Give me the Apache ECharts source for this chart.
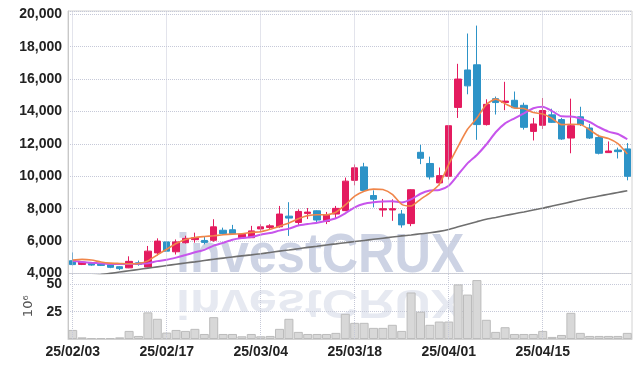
<!DOCTYPE html>
<html><head><meta charset="utf-8">
<script src="https://cdn.jsdelivr.net/npm/echarts@6/dist/echarts.min.js"></script>
<style>html,body{margin:0;padding:0;background:#fff}#c{width:642px;height:368px}</style>
</head><body><div id="c"></div>
<script>
const dates = ['25/02/03','25/02/04','25/02/05','25/02/06','25/02/07','25/02/10','25/02/11','25/02/12','25/02/13','25/02/14',
'25/02/17','25/02/18','25/02/19','25/02/20','25/02/21','25/02/24','25/02/25','25/02/26','25/02/27','25/02/28',
'25/03/04','25/03/05','25/03/06','25/03/07','25/03/10','25/03/11','25/03/12','25/03/13','25/03/14','25/03/17',
'25/03/18','25/03/19','25/03/20','25/03/21','25/03/24','25/03/25','25/03/26','25/03/27','25/03/28','25/03/31',
'25/04/01','25/04/02','25/04/03','25/04/04','25/04/07','25/04/08','25/04/09','25/04/10','25/04/11','25/04/14',
'25/04/15','25/04/16','25/04/17','25/04/18','25/04/21','25/04/22','25/04/23','25/04/24','25/04/25','25/04/28'];
const labelDates = ['25/02/03','25/02/17','25/03/04','25/03/18','25/04/01','25/04/15'];

const opens  = [4790,4560,4620,4600,4540,4420,4350,4660,4400,5270, 5950,5340,5900,6090,6040,6050,6670,6700,6210,6210,
                6750,6840,6880,7540,7150,7710,7870,7210,7670,7880, 9750,10580,8810,7920,7920,7670,7080,11480,10790,9590,
                10000,14250,16560,16880,13190,14790,14550,14690,14380,12770, 13150,13790,13500,12360,13670,12980,12390,11460,11620,11690];
const closes = [4550,4700,4520,4500,4380,4300,4750,4560,5380,6000, 5380,5950,6170,6200,5920,6880,6460,6460,6420,6630,
                6880,6940,7670,7420,7830,7790,7300,7620,8020,9700, 10520,9130,8580,8000,8000,7000,9170,11110,9960,10040,
                13120,16000,15580,13190,14440,14550,14640,14230,13020,13230, 14060,13330,12300,13120,13190,12360,11420,11560,11520,10000];
const lows   = [4500,4520,4480,4460,4330,4210,4330,4480,4380,5110, 5350,5170,5850,5900,5800,5960,6400,6420,6180,6200,
                6630,6710,6830,6320,7000,7360,7150,7050,7420,7850, 9440,9100,8080,7500,7250,6830,6920,10750,9800,9440,
                9800,13600,15060,12250,13130,13810,14080,14200,12880,12210, 12920,13300,12250,11420,13100,12300,11350,11440,11100,9750];
const highs  = [5300,4720,4650,4640,4560,4450,5060,4800,5700,6170, 6000,6100,6330,6520,6250,7350,6830,7000,6480,6940,
                7040,7040,8170,8400,7960,8040,7900,7800,8170,9920, 10730,10830,9130,8600,8580,7920,9200,11940,11210,10540,
                13150,16940,18810,19300,14750,14920,15830,15230,14540,13600, 14830,14170,13600,14790,14290,13230,12560,12150,11770,12050];
const volumes = [8.3,1.5,0.9,0.9,0.9,1.5,7.4,2.8,24.4,18.5, 5.9,8.3,7.4,9.3,4.6,20,4.6,4.6,2.5,4.6,
                 2.5,2.8,9.3,18.5,6.5,4.6,4.6,4.6,5.6,23.1, 14.8,14.8,10.2,10.2,13,7.4,42.6,25,13,16,
                 16,50,40.7,54,17.6,6.5,10.8,4.6,4.6,4.6, 7.4,1.9,3.7,24,5.6,2.8,2.8,2.8,2.8,5.6];
const ma5  = [4830,4870,4830,4710,4640,4620,4600,4620,4780,5150, 5500,5850,6100,6220,6280,6330,6390,6430,6450,6540,
              6580,6730,6920,7120,7380,7570,7630,7620,7780,8230, 8770,9080,9210,9180,8880,8270,8170,8580,8980,9500,
              10730,11850,12900,13590,14430,14760,14480,14210,14180,13930, 13840,13570,13190,13210,13200,12860,12480,12330,12010,11380];
const ma10 = [4790,4710,4665,4625,4585,4580,4580,4600,4625,4764, 4847,4980,5137,5307,5461,5719,5890,6080,6184,6247,
              6397,6496,6646,6768,6959,7050,7134,7250,7410,7717, 8081,8300,8391,8449,8466,8387,8574,8923,9117,9151,
              9411,10098,10798,11317,11961,12716,13263,13575,13881,14200, 14294,14027,13699,13692,13567,13348,13026,12759,12609,12286];
const ma60 = [3700,3780,3860,3930,4010,4090,4170,4250,4330,4410, 4490,4570,4650,4720,4800,4880,4950,5020,5090,5150,
              5220,5300,5380,5450,5530,5610,5680,5760,5830,5900, 5970,6040,6110,6180,6250,6320,6380,6450,6510,6600,
              6720,6880,7040,7200,7350,7460,7580,7690,7800,7920, 8030,8160,8290,8420,8550,8670,8780,8890,9000,9110];

const candleData = opens.map((o, i) => [o, closes[i], lows[i], highs[i]]);
const labelFont = {fontFamily: '"Liberation Sans", Arial, sans-serif', fontSize: 14, fontWeight: 'bold', color: '#222'};
const gridLineColor = '#c6c9d8';
const vLines = {
  symbol: 'none', silent: true, label: {show: false},
  lineStyle: {type: 'dotted', color: gridLineColor, width: 1},
  emphasis: {disabled: true},
  data: labelDates.map(d => ({xAxis: d}))
};
const wmFont = 'bold 56px "Liberation Sans", Arial, sans-serif';

const chart = echarts.init(document.getElementById('c'), null, {renderer: 'canvas'});
chart.setOption({
  animation: false,
  backgroundColor: '#fff',
  graphic: [
    {type: 'group', x: 176, y: 257, scaleX: 0.9, z: -1, silent: true,
     children: [{type: 'text', x: 0, y: 0, style: {text: 'investCRUX', font: wmFont, fill: '#cdd3e4', align: 'left', verticalAlign: 'middle'}}]},
    {type: 'group', x: 176, y: 284, scaleX: 0.9, scaleY: -0.72, z: -1, silent: true,
     children: [{type: 'text', x: 0, y: -24, style: {text: 'investCRUX', font: wmFont, fill: '#e6e9f1', align: 'left', verticalAlign: 'middle'}}]}
  ],
  grid: [
    {left: 68, right: 10, top: 11, height: 262.5, show: true, borderColor: '#d2d2d2', borderWidth: 1, backgroundColor: 'transparent'},
    {left: 68, right: 10, top: 273.5, height: 65.5, show: true, borderColor: '#d2d2d2', borderWidth: 1, backgroundColor: 'transparent'}
  ],
  xAxis: [
    {type: 'category', gridIndex: 0, data: dates, boundaryGap: true,
     axisLine: {show: false}, axisTick: {show: false}, axisLabel: {show: false}, splitLine: {show: false}},
    {type: 'category', gridIndex: 1, data: dates, boundaryGap: true,
     axisLine: {show: true, lineStyle: {color: '#d2d2d2'}}, axisTick: {show: false},
     axisLabel: Object.assign({show: true, margin: 6, interval: (idx, val) => labelDates.includes(val)}, labelFont),
     splitLine: {show: false}}
  ],
  yAxis: [
    {type: 'value', gridIndex: 0, min: 4000, max: 20200, interval: 2000, scale: true,
     axisLine: {show: true, lineStyle: {color: '#c8c8c8'}}, axisTick: {show: false},
     axisLabel: Object.assign({margin: 6, showMaxLabel: true,
       formatter: v => (v % 2000 === 0 ? v.toLocaleString('en-US') : '')}, labelFont),
     splitLine: {show: true, lineStyle: {type: 'dotted', color: gridLineColor, width: 1}}},
    {type: 'value', gridIndex: 1, min: 0, max: 60, interval: 25,
     name: '10⁶', nameLocation: 'middle', nameRotate: 90, nameGap: 17,
     nameTextStyle: {fontFamily: '"DejaVu Sans", sans-serif', fontSize: 13, color: '#555'},
     axisLine: {show: true, lineStyle: {color: '#c8c8c8'}}, axisTick: {show: false},
     axisLabel: Object.assign({margin: 6, formatter: v => (v === 25 || v === 50 ? String(v) : '')}, labelFont),
     splitLine: {show: true, lineStyle: {type: 'dotted', color: gridLineColor, width: 1}}}
  ],
  series: [
    {type: 'candlestick', xAxisIndex: 0, yAxisIndex: 0, data: candleData, barWidth: '72%', z: 3,
     itemStyle: {color: '#e41b5f', color0: '#2d93c7', borderColor: '#e41b5f', borderColor0: '#2d93c7', borderWidth: 1},
     markLine: vLines},
    {type: 'line', xAxisIndex: 0, yAxisIndex: 0, data: ma60, showSymbol: false, smooth: 0.2, z: 4,
     lineStyle: {color: '#6f6f6f', width: 1.6}},
    {type: 'line', xAxisIndex: 0, yAxisIndex: 0, data: ma10, showSymbol: false, smooth: 0.2, z: 4,
     lineStyle: {color: '#c755ec', width: 2}},
    {type: 'line', xAxisIndex: 0, yAxisIndex: 0, data: ma5, showSymbol: false, smooth: 0.2, z: 5,
     lineStyle: {color: '#f0864a', width: 1.6}},
    {type: 'bar', xAxisIndex: 1, yAxisIndex: 1, data: volumes, barCategoryGap: '4%',
     itemStyle: {color: '#d8d8d8', borderColor: '#bcbcbc', borderWidth: 1},
     markLine: vLines}
  ]
});
</script></body></html>
